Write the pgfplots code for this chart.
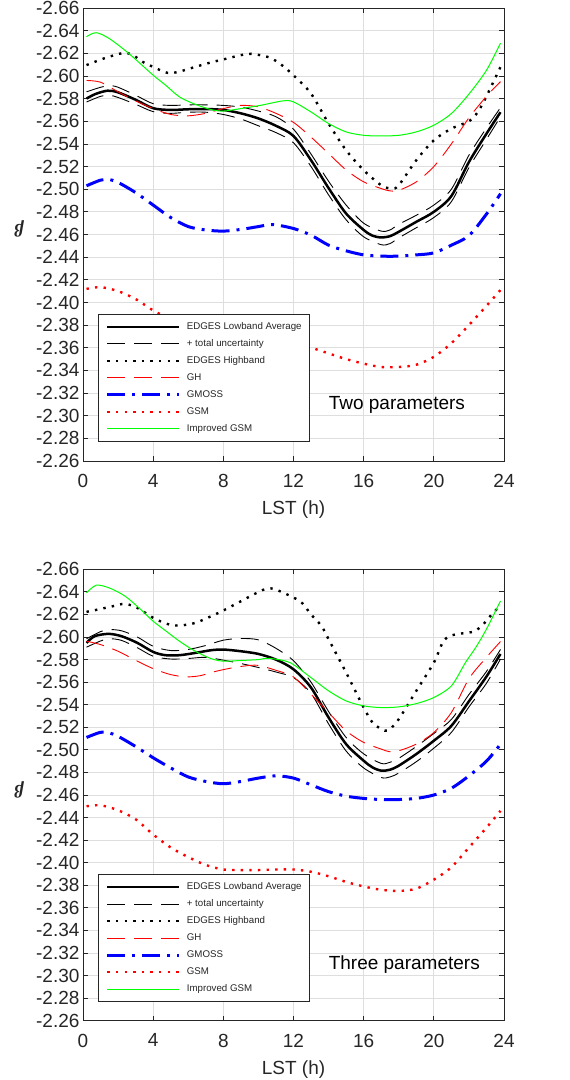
\documentclass[border=0pt]{standalone}
\usepackage{fontspec}
\setmainfont{Liberation Sans}
\newfontfamily\serifgreek{Liberation Serif}
\usepackage{pgfplots}
\pgfplotsset{compat=1.18}
\definecolor{axgray}{RGB}{38,38,38}
\definecolor{gridgray}{RGB}{222,222,222}
\pgfplotsset{
  lowband/.style={black, line width=2.5pt, smooth},
  unc/.style={black, line width=0.9pt, dash pattern=on 18pt off 9pt, smooth},
  high/.style={black, line width=2.4pt, dash pattern=on 2.4pt off 6.2pt, smooth},
  gh/.style={red, line width=0.9pt, dash pattern=on 18pt off 9pt, smooth},
  gmoss/.style={blue, line width=3pt, dash pattern=on 18pt off 7pt on 3pt off 7pt, smooth},
  gsm/.style={red, line width=2.4pt, dash pattern=on 2.4pt off 6.2pt, smooth},
  igsm/.style={green, line width=1pt, smooth},
  myax/.style={
    scale only axis, width=421pt,
    xmin=0, xmax=24, ymin=-2.66, ymax=-2.26, y dir=reverse,
    xtick={0,4,8,12,16,20,24},
    ytick={-2.66,-2.64,-2.62,-2.60,-2.58,-2.56,-2.54,-2.52,-2.50,-2.48,-2.46,-2.44,-2.42,-2.40,-2.38,-2.36,-2.34,-2.32,-2.30,-2.28,-2.26},
    /pgf/number format/assume math mode=true,
    yticklabel style={/pgf/number format/fixed,/pgf/number format/fixed zerofill,/pgf/number format/precision=2},
    ticklabel style={font=\fontsize{19}{22}\selectfont, text=axgray},
    xticklabel style={yshift=-9.5pt},
    label style={font=\fontsize{19}{22}\selectfont, text=axgray},
    tick align=inside, major tick length=5pt,
    tick style={axgray, line width=0.8pt},
    axis line style={axgray, line width=0.8pt},
    grid=major, grid style={gridgray, line width=0.8pt},
    no markers,
    xlabel={LST (h)},
    ylabel={{\serifgreek\bfseries\itshape β}},
    xlabel style={at={(axis description cs:0.5,-0.108)}, anchor=center},
    ylabel style={at={(axis description cs:-0.152,0.512)}, anchor=center, rotate=90, font=\fontsize{18}{20}\selectfont},
    legend image code/.code={\draw[#1] (0pt,0pt) -- (72pt,0pt);},
    legend style={at={(axis description cs:0.0356,0.3245)}, anchor=north west,
      draw=axgray, line width=0.8pt, fill=white,
      font=\fontsize{9.7}{11}\selectfont, text=axgray,
      inner xsep=7.5pt, inner ysep=8pt, row sep=8pt, column sep=6pt,
      nodes={inner sep=0pt, text height=7pt, text depth=2pt, anchor=west}},
    legend cell align=left,
  }
}
\begin{document}
\begin{tikzpicture}
\useasboundingbox (0pt,0pt) rectangle (570pt,-1080pt);
% ---------------- top panel ----------------
\begin{axis}[myax, height=453pt, at={(83pt,-8pt)}, anchor=north west]
\addplot[lowband] coordinates {(0.2,-2.580)(0.7,-2.584)(1.4,-2.587)(2,-2.5855)(3,-2.579)(4,-2.5715)(5,-2.570)(6,-2.5706)(7,-2.5708)(8,-2.570)(9,-2.567)(10,-2.5625)(11,-2.556)(12,-2.547)(13,-2.5256)(14,-2.501)(15,-2.4785)(16,-2.464)(16.5,-2.459)(17,-2.4574)(17.5,-2.4585)(18,-2.4624)(19,-2.4712)(20,-2.480)(21,-2.494)(22,-2.524)(23,-2.549)(23.8,-2.568)};
\addplot[unc] coordinates {(0.2,-2.586)(1,-2.590)(1.5,-2.5915)(2,-2.590)(3,-2.583)(4,-2.5755)(5,-2.574)(6,-2.5745)(7,-2.5745)(8,-2.574)(9,-2.5725)(10,-2.569)(11,-2.564)(12,-2.553)(13,-2.531)(14,-2.507)(15,-2.486)(16,-2.470)(17,-2.463)(17.5,-2.464)(18,-2.469)(19,-2.477)(20,-2.486)(21,-2.500)(22,-2.530)(23,-2.554)(23.8,-2.572)};
\addplot[unc, forget plot] coordinates {(0.2,-2.577)(1,-2.582)(1.5,-2.583)(2,-2.581)(3,-2.575)(4,-2.5685)(5,-2.567)(6,-2.568)(7,-2.568)(8,-2.566)(9,-2.562)(10,-2.556)(11,-2.550)(12,-2.541)(13,-2.520)(14,-2.495)(15,-2.473)(16,-2.458)(17,-2.451)(17.5,-2.452)(18,-2.457)(19,-2.466)(20,-2.475)(21,-2.489)(22,-2.519)(23,-2.544)(23.8,-2.564)};
\addplot[high] coordinates {(0.2,-2.6096)(1.2,-2.6155)(2.2,-2.620)(2.75,-2.6193)(3.4,-2.6125)(4,-2.608)(4.8,-2.6028)(5.4,-2.6035)(6.4,-2.608)(7.3,-2.612)(8,-2.6146)(9,-2.6184)(9.6,-2.6195)(10.6,-2.6165)(11.3,-2.610)(12,-2.6006)(13,-2.5844)(14,-2.558)(15,-2.5344)(16,-2.5168)(17,-2.5035)(17.6,-2.5006)(18,-2.5035)(19,-2.5256)(20,-2.5432)(21,-2.5535)(22,-2.560)(22.5,-2.568)(23,-2.582)(23.8,-2.608)};
\addplot[gh] coordinates {(0.2,-2.596)(1,-2.5945)(2,-2.586)(3,-2.578)(4,-2.5712)(5,-2.566)(6,-2.5648)(7,-2.567)(8,-2.5712)(9,-2.574)(10,-2.5727)(11,-2.567)(12,-2.559)(13,-2.546)(14,-2.5315)(15,-2.517)(16,-2.5065)(17,-2.5006)(17.5,-2.4985)(18,-2.499)(19,-2.5065)(20,-2.520)(21,-2.540)(22,-2.563)(23,-2.582)(23.8,-2.595)};
\addplot[gmoss] coordinates {(0.2,-2.503)(1,-2.508)(1.5,-2.5085)(2,-2.506)(3,-2.497)(4,-2.486)(5,-2.475)(6,-2.467)(7,-2.464)(8,-2.463)(9,-2.4645)(10,-2.467)(10.8,-2.4688)(12,-2.4653)(13,-2.4594)(14,-2.4506)(15,-2.4456)(16,-2.442)(17,-2.4409)(18,-2.4409)(19,-2.442)(20,-2.4438)(21,-2.4506)(22,-2.459)(23,-2.478)(23.8,-2.496)};
\addplot[gsm] coordinates {(0.2,-2.412)(1,-2.4135)(2,-2.410)(3,-2.403)(4,-2.393)(5,-2.385)(6,-2.378)(7,-2.373)(8,-2.369)(9,-2.367)(10,-2.366)(11,-2.365)(12,-2.363)(13,-2.360)(14,-2.355)(15,-2.350)(16,-2.346)(17,-2.343)(18,-2.343)(19,-2.345)(20,-2.352)(21,-2.364)(22,-2.380)(23,-2.397)(23.8,-2.411)};
\addplot[igsm] coordinates {(0.2,-2.6347)(0.75,-2.6382)(1.5,-2.633)(2.6,-2.620)(4,-2.6007)(4.7,-2.592)(5.5,-2.5815)(6.4,-2.575)(7.3,-2.5703)(8,-2.569)(9,-2.5712)(10.1,-2.574)(11.4,-2.578)(12,-2.5771)(13,-2.5682)(14,-2.558)(15,-2.5506)(16,-2.5476)(17,-2.547)(18,-2.5476)(19,-2.5506)(20,-2.5565)(21,-2.5668)(22,-2.584)(23,-2.605)(23.8,-2.629)};
\legend{EDGES Lowband Average,+ total uncertainty,EDGES Highband,GH,GMOSS,GSM,Improved GSM}
\node[anchor=west, inner sep=0pt, font=\fontsize{19}{22}\selectfont] at (axis cs:14.0,-2.3094) {Two parameters};
\end{axis}
% ---------------- bottom panel ----------------
\begin{axis}[myax, height=451.4pt, at={(83pt,-569.3pt)}, anchor=north west]
\addplot[lowband] coordinates {(0.2,-2.5948)(0.66,-2.6007)(1.45,-2.6028)(2.2,-2.6007)(3.1,-2.5948)(4,-2.5868)(4.7,-2.5839)(5.5,-2.5839)(6.4,-2.5859)(7.3,-2.5883)(8,-2.5889)(9,-2.5874)(10,-2.585)(11,-2.580)(12,-2.5714)(13,-2.5552)(14,-2.5287)(15,-2.5051)(16,-2.4904)(16.5,-2.4845)(17,-2.4816)(17.5,-2.4824)(18,-2.486)(19,-2.4963)(20,-2.5081)(21,-2.5213)(22,-2.543)(23,-2.565)(23.8,-2.585)};
\addplot[unc] coordinates {(0.2,-2.5985)(1,-2.6048)(1.5,-2.6066)(2.2,-2.6055)(3.1,-2.600)(4,-2.5918)(5,-2.588)(6,-2.589)(7,-2.5925)(8,-2.5972)(9,-2.5987)(10,-2.5975)(11,-2.590)(12,-2.579)(13,-2.560)(14,-2.534)(15,-2.511)(16,-2.4965)(17,-2.488)(17.5,-2.489)(18,-2.4925)(19,-2.503)(20,-2.5145)(21,-2.527)(22,-2.549)(23,-2.5695)(23.8,-2.589)};
\addplot[unc, forget plot] coordinates {(0.2,-2.591)(1,-2.5965)(1.5,-2.5985)(2.2,-2.597)(3.1,-2.5905)(4,-2.583)(5,-2.5805)(6,-2.581)(7,-2.582)(8,-2.5795)(9,-2.5765)(10,-2.573)(11,-2.569)(12,-2.564)(13,-2.550)(14,-2.523)(15,-2.499)(16,-2.484)(17,-2.4755)(17.5,-2.476)(18,-2.4795)(19,-2.4895)(20,-2.5015)(21,-2.5155)(22,-2.538)(23,-2.559)(23.8,-2.5805)};
\addplot[high] coordinates {(0.2,-2.6223)(0.83,-2.6243)(1.7,-2.6273)(2.4,-2.6294)(3.1,-2.6258)(4,-2.617)(4.8,-2.6116)(5.5,-2.6102)(6.4,-2.6125)(7.3,-2.6184)(8,-2.6235)(9,-2.6317)(9.9,-2.6391)(10.5,-2.643)(11,-2.642)(12,-2.635)(12.5,-2.630)(13,-2.620)(13.6,-2.6097)(14,-2.598)(15,-2.5685)(16,-2.5375)(16.5,-2.5243)(17,-2.5184)(17.2,-2.517)(17.5,-2.5184)(18,-2.5272)(19,-2.5523)(20,-2.5773)(20.5,-2.595)(20.9,-2.6009)(21.6,-2.6032)(22.3,-2.605)(22.8,-2.611)(23.3,-2.620)(23.8,-2.628)};
\addplot[gh] coordinates {(0.2,-2.5963)(1,-2.5933)(2,-2.5874)(3.1,-2.5786)(4,-2.572)(5,-2.5667)(5.9,-2.5647)(6.7,-2.5658)(7.6,-2.5697)(8.7,-2.5732)(9.9,-2.575)(11,-2.5705)(12,-2.5646)(13,-2.5493)(14,-2.5331)(15,-2.5169)(16,-2.5066)(17,-2.5007)(17.5,-2.4983)(18,-2.4992)(19,-2.5051)(20,-2.5154)(21,-2.5331)(22,-2.563)(23,-2.582)(23.8,-2.596)};
\addplot[gmoss] coordinates {(0.2,-2.511)(1,-2.5156)(1.5,-2.515)(2,-2.512)(3,-2.503)(4,-2.493)(5,-2.484)(6,-2.476)(7,-2.472)(8,-2.470)(9,-2.472)(10,-2.475)(11,-2.477)(12,-2.475)(13,-2.469)(14,-2.463)(15,-2.459)(16,-2.457)(17,-2.456)(18,-2.456)(19,-2.457)(20,-2.460)(21,-2.466)(22,-2.477)(23,-2.490)(23.8,-2.505)};
\addplot[gsm] coordinates {(0.2,-2.450)(1,-2.4509)(2,-2.4465)(3,-2.4385)(4,-2.425)(5,-2.4135)(6,-2.405)(7,-2.398)(8,-2.394)(9,-2.3935)(10,-2.3935)(11,-2.394)(12,-2.394)(13,-2.392)(14,-2.388)(15,-2.383)(16,-2.379)(17,-2.376)(18,-2.375)(19,-2.377)(20,-2.385)(21,-2.396)(22,-2.4135)(23,-2.431)(23.8,-2.446)};
\addplot[igsm] coordinates {(0.2,-2.6391)(0.75,-2.6459)(1.5,-2.6435)(2.4,-2.6362)(3.3,-2.6243)(4,-2.614)(4.7,-2.6057)(5.5,-2.5963)(6.4,-2.5874)(7.3,-2.5809)(8,-2.5786)(9,-2.5792)(10,-2.580)(10.6,-2.5811)(11.8,-2.5773)(13,-2.564)(14,-2.5523)(15,-2.5434)(16,-2.539)(17,-2.5375)(18,-2.5381)(19,-2.541)(20,-2.5464)(21,-2.5567)(21.8,-2.5773)(22.4,-2.591)(23,-2.607)(23.8,-2.632)};
\legend{EDGES Lowband Average,+ total uncertainty,EDGES Highband,GH,GMOSS,GSM,Improved GSM}
\node[anchor=west, inner sep=0pt, font=\fontsize{19}{22}\selectfont] at (axis cs:14.0,-2.3094) {Three parameters};
\end{axis}
\end{tikzpicture}
\end{document}
